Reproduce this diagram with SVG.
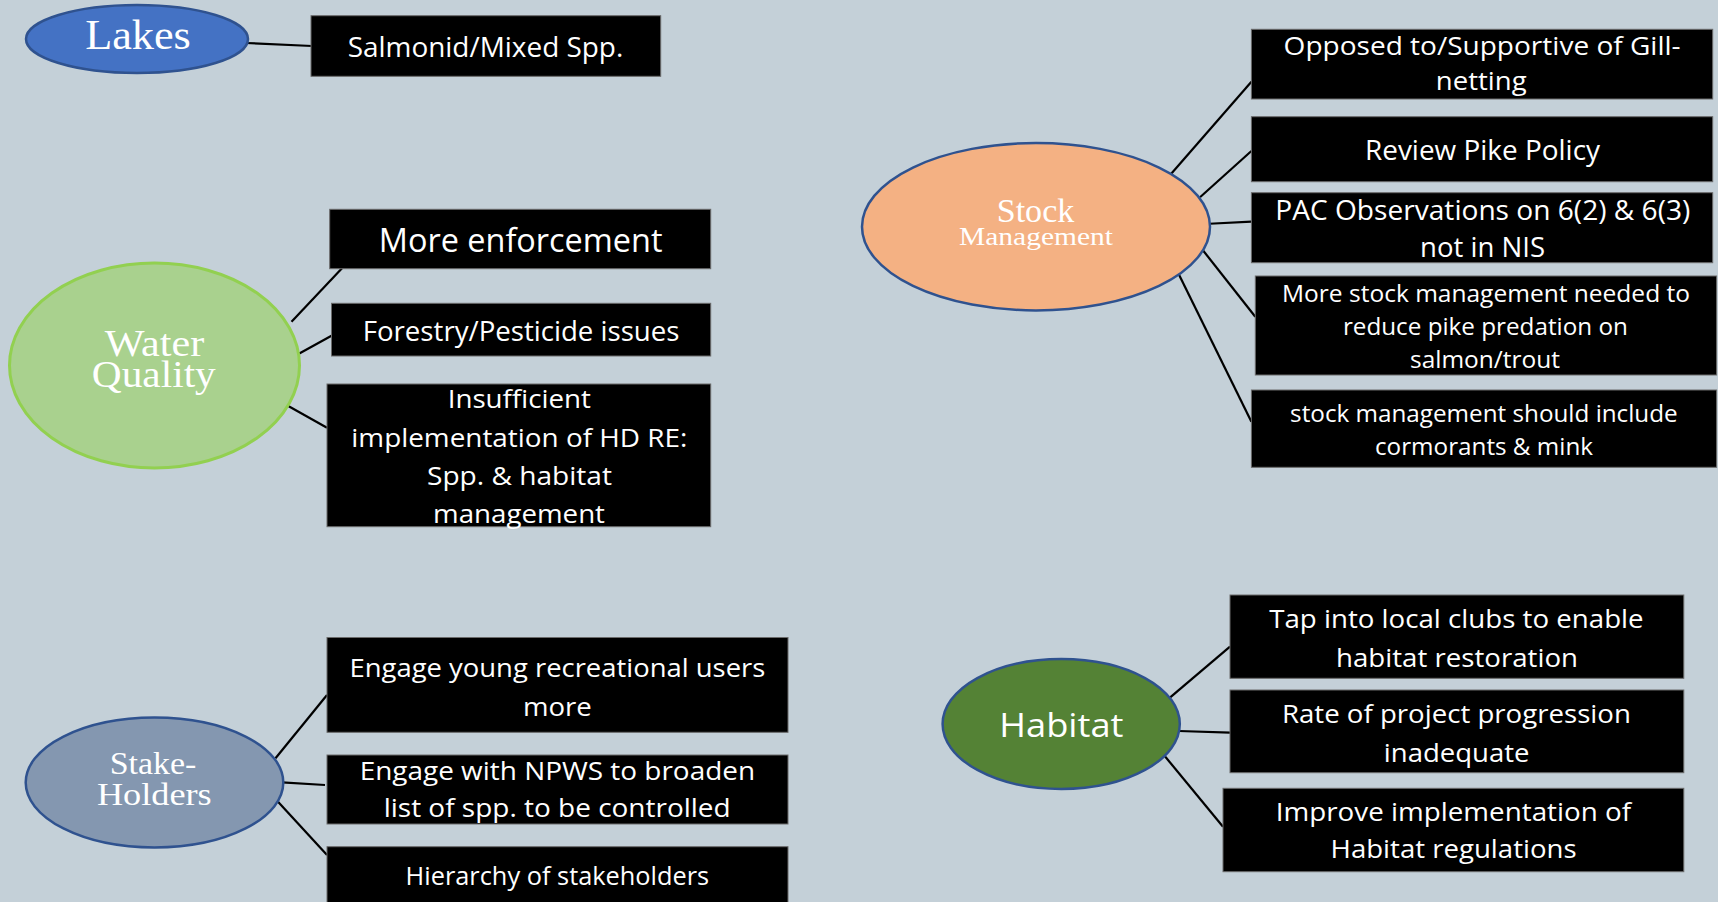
<svg xmlns="http://www.w3.org/2000/svg" width="1718" height="902" viewBox="0 0 1718 902">
<style>
.box{fill:#000;stroke:#6b6b6b;stroke-width:1}
.t{font-family:"Open Sans","Liberation Sans",sans-serif;fill:#fff;text-anchor:middle}
.s{font-family:"Liberation Serif","DejaVu Serif",serif;fill:#fff;text-anchor:middle}
.hub{stroke:#2f528f;stroke-width:2.5}
#connectors line{stroke:#000;stroke-width:2.2}
</style>
<rect width="1718" height="902" fill="#c4d0d8"/>
<g id="connectors">
<line x1="246" y1="43" x2="312" y2="46"/>
<line x1="291.5" y1="321.7" x2="342" y2="268.3"/>
<line x1="298.4" y1="354" x2="331.5" y2="335.7"/>
<line x1="270" y1="395.7" x2="327" y2="427.7"/>
<line x1="1171" y1="174" x2="1251.4" y2="81.7"/>
<line x1="1200" y1="197.3" x2="1251.4" y2="151"/>
<line x1="1204.4" y1="224" x2="1251.4" y2="221.7"/>
<line x1="1202.7" y1="250" x2="1255.3" y2="316.7"/>
<line x1="1176.7" y1="270" x2="1251.4" y2="421.7"/>
<line x1="275.5" y1="758.3" x2="327" y2="695"/>
<line x1="282" y1="782.3" x2="325" y2="785"/>
<line x1="278" y1="801.7" x2="327" y2="855"/>
<line x1="1170.2" y1="697.3" x2="1230" y2="646.7"/>
<line x1="1178.7" y1="731" x2="1230" y2="732.7"/>
<line x1="1162" y1="752.7" x2="1223" y2="826.7"/>
</g>
<g id="lakes">
<ellipse class="hub" cx="137" cy="39" rx="111" ry="34" fill="#4472c4"/>
<text class="s" x="138" y="49.3" font-size="43" textLength="105.7" lengthAdjust="spacingAndGlyphs">Lakes</text>
</g>
<g id="salmonid">
<rect class="box" x="311" y="15.7" width="349.7" height="60.6"/>
<text class="t" x="485.5" y="57.3" font-size="28" textLength="275.6" lengthAdjust="spacingAndGlyphs">Salmonid/Mixed Spp.</text>
</g>
<g id="water-quality">
<ellipse cx="154.5" cy="365.5" rx="145" ry="102.5" fill="#a9d18e" stroke="#92d050" stroke-width="3"/>
<text class="s" x="154.5" y="356" font-size="37" textLength="99.6" lengthAdjust="spacingAndGlyphs">Water</text>
<text class="s" x="153.8" y="386.7" font-size="37" textLength="124" lengthAdjust="spacingAndGlyphs">Quality</text>
</g>
<g id="more-enforcement">
<rect class="box" x="329.7" y="209.3" width="381" height="59.4"/>
<text class="t" x="520.6" y="251.7" font-size="32" textLength="283.7" lengthAdjust="spacingAndGlyphs">More enforcement</text>
</g>
<g id="forestry">
<rect class="box" x="331.5" y="303.3" width="379.2" height="52.7"/>
<text class="t" x="521.1" y="340.7" font-size="27" textLength="316.8" lengthAdjust="spacingAndGlyphs">Forestry/Pesticide issues</text>
</g>
<g id="insufficient">
<rect class="box" x="327" y="384" width="383.7" height="142.7"/>
<text class="t" x="519.3" y="408.3" font-size="26" textLength="143.3" lengthAdjust="spacingAndGlyphs">Insufficient</text>
<text class="t" x="519.3" y="446.7" font-size="26" textLength="336" lengthAdjust="spacingAndGlyphs">implementation of HD RE:</text>
<text class="t" x="519.5" y="485" font-size="26" textLength="185" lengthAdjust="spacingAndGlyphs">Spp. &amp; habitat</text>
<text class="t" x="519" y="523.3" font-size="26" textLength="172" lengthAdjust="spacingAndGlyphs">management</text>
</g>
<g id="stock-management">
<ellipse class="hub" cx="1036" cy="226.7" rx="174" ry="83.7" fill="#f4b183"/>
<text class="s" x="1035.5" y="221.7" font-size="33" textLength="77.5" lengthAdjust="spacingAndGlyphs">Stock</text>
<text class="s" x="1036" y="245" font-size="25" textLength="154" lengthAdjust="spacingAndGlyphs">Management</text>
</g>
<g id="gill-netting">
<rect class="box" x="1251.4" y="29.3" width="461.3" height="69.7"/>
<text class="t" x="1482.1" y="55" font-size="26" textLength="397" lengthAdjust="spacingAndGlyphs">Opposed to/Supportive of Gill-</text>
<text class="t" x="1481.2" y="90" font-size="26" textLength="90.8" lengthAdjust="spacingAndGlyphs">netting</text>
</g>
<g id="pike-policy">
<rect class="box" x="1251.4" y="116.7" width="461.3" height="65"/>
<text class="t" x="1482.5" y="160" font-size="28" textLength="235" lengthAdjust="spacingAndGlyphs">Review Pike Policy</text>
</g>
<g id="pac">
<rect class="box" x="1251.4" y="192.7" width="461.3" height="70"/>
<text class="t" x="1482.8" y="220" font-size="27" textLength="415" lengthAdjust="spacingAndGlyphs">PAC Observations on 6(2) &amp; 6(3)</text>
<text class="t" x="1482.5" y="257.3" font-size="27" textLength="125" lengthAdjust="spacingAndGlyphs">not in NIS</text>
</g>
<g id="pike-predation">
<rect class="box" x="1255.3" y="276" width="461.3" height="99"/>
<text class="t" x="1486" y="301.7" font-size="24" textLength="408" lengthAdjust="spacingAndGlyphs">More stock management needed to</text>
<text class="t" x="1485.4" y="335" font-size="24" textLength="285" lengthAdjust="spacingAndGlyphs">reduce pike predation on</text>
<text class="t" x="1485" y="368.3" font-size="24" textLength="150" lengthAdjust="spacingAndGlyphs">salmon/trout</text>
</g>
<g id="cormorants">
<rect class="box" x="1251.4" y="390" width="465.2" height="77.3"/>
<text class="t" x="1483.9" y="421.7" font-size="24" textLength="387.6" lengthAdjust="spacingAndGlyphs">stock management should include</text>
<text class="t" x="1484" y="455" font-size="24" textLength="218" lengthAdjust="spacingAndGlyphs">cormorants &amp; mink</text>
</g>
<g id="stakeholders">
<ellipse class="hub" cx="154.5" cy="782.5" rx="128.8" ry="65" fill="#8497b0"/>
<text class="s" x="153" y="774" font-size="31" textLength="86.7" lengthAdjust="spacingAndGlyphs">Stake-</text>
<text class="s" x="154.3" y="805" font-size="31" textLength="114.8" lengthAdjust="spacingAndGlyphs">Holders</text>
</g>
<g id="young-users">
<rect class="box" x="327" y="637.5" width="461" height="94.8"/>
<text class="t" x="557.4" y="676.7" font-size="26" textLength="415.8" lengthAdjust="spacingAndGlyphs">Engage young recreational users</text>
<text class="t" x="557.4" y="715.7" font-size="26" textLength="68.9" lengthAdjust="spacingAndGlyphs">more</text>
</g>
<g id="npws">
<rect class="box" x="327" y="755" width="461" height="69"/>
<text class="t" x="557.4" y="780" font-size="26" textLength="395.4" lengthAdjust="spacingAndGlyphs">Engage with NPWS to broaden</text>
<text class="t" x="557.2" y="816.7" font-size="26" textLength="347" lengthAdjust="spacingAndGlyphs">list of spp. to be controlled</text>
</g>
<g id="hierarchy">
<rect class="box" x="327" y="846.7" width="461" height="70"/>
<text class="t" x="557.4" y="885" font-size="26" textLength="303.6" lengthAdjust="spacingAndGlyphs">Hierarchy of stakeholders</text>
</g>
<g id="habitat">
<ellipse class="hub" cx="1061.2" cy="724" rx="118.6" ry="65" fill="#548235"/>
<text class="t" x="1061.4" y="736.7" font-size="33" textLength="124.2" lengthAdjust="spacingAndGlyphs">Habitat</text>
</g>
<g id="local-clubs">
<rect class="box" x="1230" y="595" width="453.8" height="83.3"/>
<text class="t" x="1456.4" y="628.3" font-size="26" textLength="374.4" lengthAdjust="spacingAndGlyphs">Tap into local clubs to enable</text>
<text class="t" x="1457" y="666.7" font-size="26" textLength="242" lengthAdjust="spacingAndGlyphs">habitat restoration</text>
</g>
<g id="progression">
<rect class="box" x="1230" y="690" width="453.8" height="82.7"/>
<text class="t" x="1456.4" y="722.7" font-size="26" textLength="349" lengthAdjust="spacingAndGlyphs">Rate of project progression</text>
<text class="t" x="1456.7" y="761.7" font-size="26" textLength="145.7" lengthAdjust="spacingAndGlyphs">inadequate</text>
</g>
<g id="regulations">
<rect class="box" x="1223" y="788.3" width="460.8" height="83.4"/>
<text class="t" x="1453.4" y="820.7" font-size="26" textLength="355.3" lengthAdjust="spacingAndGlyphs">Improve implementation of</text>
<text class="t" x="1453.6" y="858.3" font-size="26" textLength="246" lengthAdjust="spacingAndGlyphs">Habitat regulations</text>
</g>
</svg>
